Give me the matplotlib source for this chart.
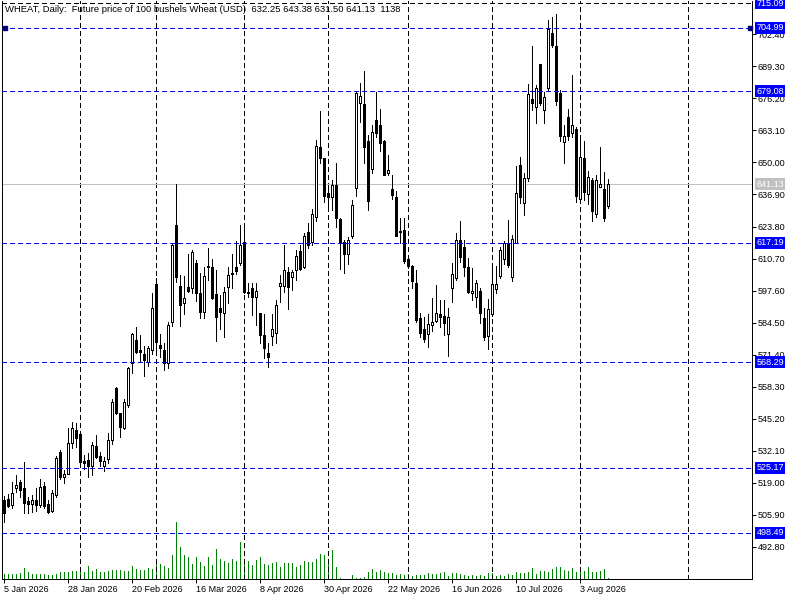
import matplotlib
matplotlib.use('Agg')
import matplotlib.pyplot as plt
import matplotlib.transforms as mtransforms
import numpy as np
import pandas as pd

plt.rcParams['font.family'] = ['Liberation Sans', 'DejaVu Sans']
plt.rcParams['font.size'] = 6.5
plt.rcParams['lines.scale_dashes'] = False

# daily OHLC (5 Jan 2026 onwards)
opens = [512.0, 512.3, 509.8, 516.8, 519.3, 516.8, 511.5, 510.3, 511.9, 509.9,
         517.6, 510.3, 507.4, 513.9, 531.5, 521.3, 522.5, 535.2, 540.5, 538.9,
         527.8, 528.3, 525.8, 534.0, 529.9, 525.8, 528.7, 536.4, 557.7, 547.5,
         541.4, 550.8, 567.9, 577.3, 573.3, 571.6, 568.3, 573.3, 600.2, 575.3,
         573.3, 567.9, 584.7, 624.4, 599.4, 592.5, 599.0, 598.6, 608.8, 596.6,
         588.8, 607.4, 607.2, 596.2, 590.4, 588.4, 599.0, 604.3, 607.2, 608.8,
         617.4, 597.0, 598.6, 594.9, 588.4, 579.4, 572.0, 579.0, 580.2, 599.4,
         599.4, 605.2, 603.1, 606.0, 613.7, 607.2, 621.5, 617.4, 627.7, 656.3,
         651.8, 637.5, 635.8, 640.7, 626.8, 617.4, 612.5, 619.9, 639.5, 674.3,
         673.9, 658.7, 647.3, 667.4, 665.3, 658.7, 645.6, 639.1, 635.8, 621.8,
         622.3, 610.5, 607.6, 600.6, 586.3, 581.8, 579.8, 583.5, 585.1, 588.0,
         587.2, 579.8, 598.6, 602.7, 618.3, 615.4, 607.2, 596.6, 594.9, 597.4,
         586.3, 579.0, 588.0, 598.2, 603.5, 610.5, 616.6, 603.1, 617.0, 648.9,
         633.4, 643.6, 675.9, 672.6, 690.2, 671.4, 680.4, 702.9, 697.6, 678.4,
         658.3, 668.6, 662.0, 663.7, 635.0, 651.8, 637.1, 642.8, 628.9, 640.0,
         639.1, 632.25]
highs = [513.5, 514.4, 519.3, 522.1, 520.1, 527.4, 513.1, 513.9, 516.8, 520.5,
         519.3, 511.9, 516.0, 529.9, 532.3, 524.2, 541.4, 543.8, 543.4, 539.3,
         530.3, 531.1, 535.6, 538.5, 531.5, 529.5, 539.3, 553.2, 558.1, 547.5,
         553.2, 566.3, 580.2, 582.7, 579.4, 574.9, 574.9, 596.6, 602.7, 580.0,
         576.1, 584.7, 617.0, 641.1, 603.9, 603.5, 612.5, 614.2, 610.1, 604.7,
         607.2, 615.0, 610.5, 606.0, 595.7, 599.0, 607.2, 612.5, 617.8, 624.4,
         623.6, 600.6, 600.6, 600.6, 588.4, 588.0, 576.1, 588.0, 593.7, 603.9,
         616.2, 607.2, 606.0, 614.2, 616.2, 621.1, 625.2, 630.9, 659.1, 671.0,
         651.8, 639.5, 642.8, 649.7, 627.2, 618.3, 619.5, 634.6, 679.2, 682.5,
         687.4, 661.2, 665.3, 678.8, 671.8, 659.1, 653.0, 644.8, 638.3, 627.2,
         627.2, 612.1, 608.0, 606.0, 588.4, 586.7, 588.0, 594.5, 599.8, 593.7,
         593.7, 590.4, 608.8, 621.1, 626.0, 618.3, 610.9, 606.8, 601.9, 598.6,
         590.4, 594.1, 607.6, 607.6, 615.4, 617.8, 626.5, 620.3, 648.5, 652.2,
         645.6, 682.0, 697.6, 681.6, 690.2, 678.8, 708.2, 709.4, 710.7, 679.6,
         665.3, 671.8, 685.7, 664.5, 659.9, 658.7, 646.5, 643.6, 644.8, 656.3,
         646.1, 643.38]
lows = [503.0, 509.0, 508.6, 515.2, 513.1, 506.6, 506.6, 507.0, 507.4, 509.0,
        508.6, 506.6, 507.0, 513.1, 520.5, 518.9, 522.5, 533.2, 533.6, 525.4,
        524.6, 521.3, 522.1, 529.1, 525.8, 523.8, 527.0, 534.8, 547.1, 537.7,
        540.9, 549.9, 563.8, 572.0, 568.3, 562.6, 566.7, 571.5, 573.3, 570.4,
        565.1, 565.9, 583.1, 601.1, 583.1, 588.0, 597.0, 596.6, 593.3, 586.3,
        586.3, 601.9, 594.1, 577.0, 581.8, 578.6, 592.5, 598.6, 604.3, 608.0,
        596.6, 594.9, 587.6, 583.5, 576.1, 570.0, 566.3, 575.3, 576.1, 592.9,
        597.0, 590.0, 597.8, 601.9, 606.0, 606.8, 615.0, 616.2, 626.0, 649.7,
        633.8, 630.5, 630.5, 623.6, 606.4, 604.7, 608.4, 619.1, 636.2, 666.5,
        649.7, 630.5, 645.6, 660.4, 654.6, 644.8, 644.8, 635.0, 619.9, 617.0,
        608.8, 606.8, 598.6, 584.7, 578.6, 576.5, 574.5, 581.0, 584.7, 582.7,
        579.4, 570.8, 592.9, 601.9, 609.2, 603.5, 596.6, 593.7, 590.8, 584.3,
        577.3, 573.7, 587.2, 596.6, 602.7, 608.4, 607.2, 601.5, 617.0, 633.4,
        628.5, 642.4, 671.4, 666.1, 673.5, 666.1, 679.6, 697.2, 673.5, 658.7,
        649.7, 659.1, 660.4, 633.8, 633.4, 634.6, 633.0, 626.0, 627.7, 640.0,
        626.0, 631.50]
closes = [506.6, 509.4, 514.8, 518.0, 516.0, 510.7, 510.3, 511.9, 509.9, 517.2,
          509.4, 507.0, 514.8, 529.1, 521.3, 522.5, 535.2, 541.4, 537.3, 527.4,
          527.0, 525.8, 534.4, 529.5, 527.8, 527.8, 536.4, 552.0, 547.5, 541.8,
          552.0, 565.9, 579.8, 572.4, 572.4, 569.2, 574.1, 590.4, 576.5, 574.1,
          567.9, 583.5, 616.2, 603.1, 591.7, 594.5, 597.4, 613.3, 596.6, 588.8,
          603.5, 607.6, 594.5, 586.7, 588.8, 597.0, 603.9, 604.7, 605.6, 616.2,
          597.0, 596.6, 594.9, 597.4, 579.4, 574.1, 570.4, 581.8, 591.7, 600.6,
          606.0, 599.0, 605.2, 611.7, 606.4, 619.9, 616.2, 628.9, 656.7, 651.8,
          636.2, 635.8, 640.7, 627.2, 617.0, 612.5, 618.3, 632.6, 678.4, 677.1,
          656.3, 634.2, 662.4, 662.0, 657.9, 644.8, 646.9, 636.6, 619.9, 621.6,
          609.7, 607.6, 601.5, 585.5, 580.2, 577.8, 583.9, 584.7, 588.4, 586.7,
          584.3, 586.7, 604.3, 618.3, 611.3, 607.2, 597.0, 597.4, 600.6, 588.4,
          578.6, 590.0, 600.2, 600.2, 614.2, 617.0, 608.0, 618.7, 637.5, 635.8,
          643.6, 677.9, 674.3, 680.4, 674.3, 676.7, 704.5, 698.0, 675.1, 660.8,
          660.8, 660.8, 665.3, 636.2, 652.2, 637.9, 644.0, 630.1, 642.8, 641.1,
          627.2, 641.13]
volumes = [5500, 5500, 5500, 5800, 6900, 12100, 7700, 5500, 5500, 5500,
           5800, 4400, 4400, 5800, 8000, 7400, 8000, 8800, 8800, 8800,
           8000, 14300, 8800, 11000, 8000, 7400, 8800, 9900, 9900, 9900,
           8800, 8800, 14300, 11000, 9600, 10200, 12100, 11300, 20900, 16800,
           14300, 12100, 26400, 62700, 35200, 26400, 24200, 16800, 24200, 18700,
           14300, 24200, 15400, 33000, 21700, 19800, 17600, 22000, 19800, 40700,
           22000, 19800, 15400, 20900, 24200, 16500, 15400, 17600, 18700, 13200,
           17600, 17600, 17600, 13200, 15400, 19800, 18700, 18700, 22000, 27500,
           26400, 22000, 31900, 13200, 1100, 300, 300, 4400, 1100, 1100,
           2200, 7700, 11000, 7700, 9900, 7700, 6600, 6600, 4400, 5500,
           4400, 5500, 3300, 4400, 4400, 4400, 6600, 5500, 5500, 6600,
           7700, 3300, 6600, 6600, 5500, 4400, 3300, 4400, 3300, 4400,
           3300, 6600, 6600, 3300, 4400, 3300, 5500, 4400, 7700, 6600,
           6600, 7700, 12100, 5500, 8800, 8800, 7700, 11000, 13200, 13200,
           9900, 8800, 12100, 7700, 8800, 8800, 13200, 7700, 7700, 8800,
           11000, 1138]

holidays = ['2026-01-19', '2026-02-16', '2026-04-03', '2026-05-25',
            '2026-06-19', '2026-07-03']
level_lines = [704.99, 679.08, 617.19, 568.29, 525.17, 498.49]
top_price = 715.09
last_price = 641.13
header = ('WHEAT, Daily:  Future price of 100 bushels Wheat (USD)  '
          '632.25 643.38 631.50 641.13  1138')

BLUE = '#0000ff'
DASH = (2.9, 2.2)
LW = 0.72  # one pixel

opens, highs, lows, closes = map(np.array, (opens, highs, lows, closes))
x = np.arange(len(closes))
dates = pd.bdate_range('2026-01-05', periods=len(closes), freq='C',
                       holidays=holidays)

W, H = 800, 600
fig = plt.figure(figsize=(W / 100, H / 100), dpi=100)
rect = [2 / W, 21 / H, 750 / W, 578 / H]
ax_vol = fig.add_axes(rect)
ax = fig.add_axes(rect)
ax.set_facecolor('none')

# 4 px per bar, bar centres on pixel centres
xlim = (-0.375, -0.375 + 750 / 4)
ax.set_xlim(xlim)
ax_vol.set_xlim(xlim)
ax.set_ylim(479.63, 716.03)
ax_vol.set_ylim(0, 578 * 1100)
ax_vol.axis('off')

# volume histogram at the bottom
ax_vol.vlines(x, 0, volumes, color='#008000', lw=LW, antialiased=False)

# month separators (plus the one in the empty future area)
month_starts = [i for i in range(1, len(dates)) if dates[i].month != dates[i - 1].month]
for i in month_starts + [171]:
    ax.axvline(i, color='black', lw=LW, dashes=DASH, zorder=1, antialiased=False)

# horizontal levels
for p in level_lines:
    ax.axhline(p, color=BLUE, lw=LW, dashes=DASH, zorder=4, antialiased=False)
ax.axhline(top_price, color='black', lw=LW, dashes=DASH, zorder=4, antialiased=False)
ax.axhline(last_price, color='#c0c0c0', lw=LW, zorder=1, antialiased=False)

# candles
up = closes >= opens
bottoms = np.minimum(opens, closes)
heights = np.maximum(np.abs(closes - opens), 0.12)
ax.vlines(x, lows, highs, color='black', lw=LW, zorder=2, antialiased=False)
ax.bar(x, heights, bottom=bottoms, width=0.5,
       color=np.where(up, 'white', 'black'), edgecolor='black',
       linewidth=LW, zorder=3, antialiased=False)

# axes
ax.spines['top'].set_visible(False)
for s in ['left', 'right', 'bottom']:
    ax.spines[s].set_linewidth(LW)
    ax.spines[s].set_antialiased(False)
ax.yaxis.tick_right()
yt = np.arange(492.8, 703, 13.1)
ax.set_yticks(yt)
ax.set_yticklabels(['%.2f' % v for v in yt])
ax.tick_params(axis='y', direction='out', length=3, width=LW, pad=1,
               labelsize=6.5)
xt = x[::16]
ax.set_xticks(xt)
ax.set_xticklabels(['%d %s' % (dates[i].day, dates[i].strftime('%b %Y')) for i in xt],
                   ha='left')
ax.tick_params(axis='x', direction='out', length=3, width=LW, pad=1.5,
               labelsize=6.5)

# price boxes on the right scale
trans = mtransforms.blended_transform_factory(ax.transAxes, ax.transData)
for p in level_lines + [top_price]:
    ax.text(1.006, p, '%.2f' % p, transform=trans, color='white', ha='left',
            va='center', fontsize=6.5, zorder=10, clip_on=False,
            bbox=dict(boxstyle='square,pad=0.15', fc=BLUE, ec='none'))
ax.text(1.006, last_price, '%.2f' % last_price, transform=trans, color='white',
        ha='left', va='center', fontsize=6.5, zorder=10, clip_on=False,
        bbox=dict(boxstyle='square,pad=0.15', fc='#c0c0c0', ec='none'))

# selected-line handles
ax.plot([0.004, 0.997], [level_lines[0]] * 2, transform=trans, ls='none',
        marker='s', ms=3, color='#000080', clip_on=False, zorder=6)

ax.text(0.004, 1 - 8.5 / 578, header, transform=ax.transAxes, ha='left',
        va='center', fontsize=6.8, zorder=10)

fig.savefig('out.png', dpi=100)
